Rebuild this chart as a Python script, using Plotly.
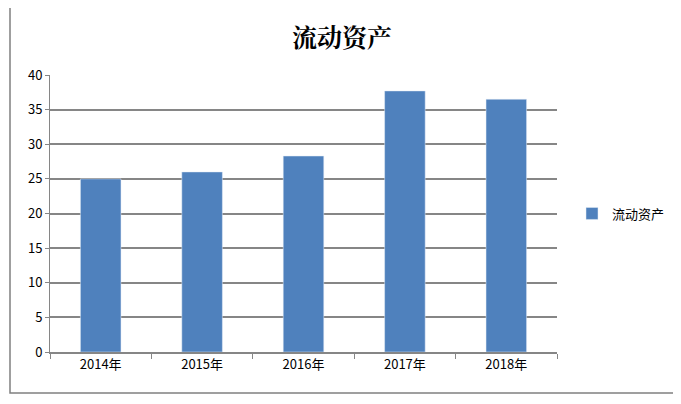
import plotly.graph_objects as go

categories = ["2014年", "2015年", "2016年", "2017年", "2018年"]
values = [25.0, 26.0, 28.3, 37.7, 36.5]
series_name = "流动资产"
title = "流动资产"

fig = go.Figure(go.Bar(x=categories, y=values, name=series_name, marker_color="#4F81BD", width=0.4, showlegend=True))
W, H = 681, 404
o = 8  # page body offset
L, R, T, B = 50 - o, 557 - o, 75 - o, 352 - o
pw, ph = R - L, B - T
fig.update_layout(
    width=W, height=H, paper_bgcolor="white", plot_bgcolor="white",
    margin=dict(l=L, r=W - R, t=T, b=H - B),
    title=dict(text="<b>" + title + "</b>", x=(342 - o) / W, xanchor="center", y=1 - (38 - o) / H, yanchor="middle",
               font=dict(family="Noto Serif CJK SC, Noto Sans CJK SC", size=25, color="black")),
    font=dict(family="Noto Sans CJK SC", size=13, color="black"),
    legend=dict(x=(572 - 50) / 507, y=0.5, yanchor="middle", xanchor="left", font=dict(size=13), itemwidth=30),
    shapes=[dict(type="rect", xref="paper", yref="paper",
                 x0=(10 - 50) / 507, x1=(674 - 50) / 507, y0=-(393 - 352) / 277, y1=1 + (75 - 7) / 277,
                 line=dict(color="#808080", width=1.5))],
)
fig.update_yaxes(range=[0, 40], dtick=5, showgrid=True, gridcolor="#868686", gridwidth=1.5,
                 ticks="outside", ticklen=4, tickcolor="#868686", showline=True, linecolor="#868686", zeroline=False)
fig.update_xaxes(showline=True, linecolor="#868686", linewidth=1.5, ticks="outside", tickson="boundaries",
                 ticklen=5, tickcolor="#868686", showgrid=False)
fig.write_html("out.html")
